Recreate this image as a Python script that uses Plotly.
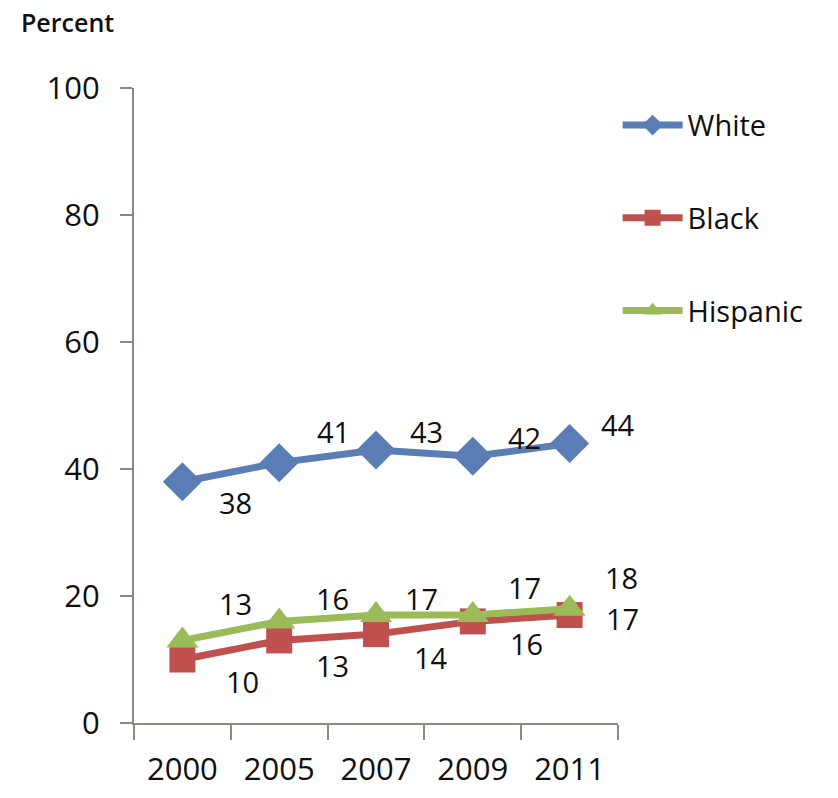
import plotly.graph_objects as go

years = ["2000", "2005", "2007", "2009", "2011"]
white = [38, 41, 43, 42, 44]
black = [10, 13, 14, 16, 17]
hispanic = [13, 16, 17, 17, 18]
y_ticks = [0, 20, 40, 60, 80, 100]

series = [
    ("White", white, "#5A7DB6", "diamond", 30),
    ("Black", black, "#C0504D", "square", 26),
    ("Hispanic", hispanic, "#9BBB59", "triangle-up", 28),
]

# label offsets (pixels) relative to each point: (xshift, yshift)
label_offsets = {
    "White": [(53, -21), (54, 31), (50, 18), (52, 19), (48, 19)],
    "Black": [(60, -22), (53, -25), (55, -23), (54, -22), (53, -3)],
    "Hispanic": [(53, 37), (53, 23), (45, 17), (52, 28), (52, 31)],
}

FONT = "Open Sans"
TXT = "#101010"
AX = "#8C8A80"

fig = go.Figure()
annotations = []
for i, (name, vals, color, sym, msize) in enumerate(series):
    fig.add_trace(go.Scatter(
        x=years, y=vals, name=name, mode="lines+markers",
        line=dict(color=color, width=7),
        marker=dict(symbol=sym, size=msize, color=color),
        legendgroup=name,
    ))
    for j, yv in enumerate(vals):
        dx, dy = label_offsets[name][j]
        annotations.append(dict(
            x=j, y=yv, xref="x", yref="y", text=str(yv), showarrow=False,
            xshift=dx, yshift=dy, font=dict(family=FONT, size=29, color=TXT),
        ))

annotations.append(dict(
    text="Percent", xref="paper", yref="paper", x=-0.238, y=1.104,
    xanchor="left", yanchor="middle", showarrow=False,
    font=dict(family=FONT, size=25, color=TXT, weight=600),
))

fig.update_layout(
    width=838, height=798,
    margin=dict(l=134, r=220, t=88, b=75, autoexpand=False),
    paper_bgcolor="white", plot_bgcolor="white",
    showlegend=True,
    legend=dict(
        xref="container", yref="container", x=0.737, y=0.875,
        xanchor="left", yanchor="top",
        font=dict(family=FONT, size=29, color=TXT),
        tracegroupgap=52, itemwidth=60,
        bgcolor="rgba(0,0,0,0)",
    ),
    annotations=annotations,
    xaxis=dict(
        type="category", range=[-0.5, 4.5],
        showgrid=False, showline=True, linecolor=AX, linewidth=2,
        ticks="outside", tickson="boundaries", ticklen=15, tickwidth=2, tickcolor=AX,
        tickfont=dict(family=FONT, size=31, color=TXT),
        ticklabelstandoff=18,
        zeroline=False,
    ),
    yaxis=dict(
        range=[0, 100], tickvals=y_ticks,
        showgrid=False, showline=True, linecolor=AX, linewidth=2,
        ticks="outside", ticklen=12, tickwidth=2, tickcolor=AX,
        tickfont=dict(family=FONT, size=31, color=TXT),
        ticklabelstandoff=14,
        zeroline=False,
    ),
)

fig.write_html("out.html")
